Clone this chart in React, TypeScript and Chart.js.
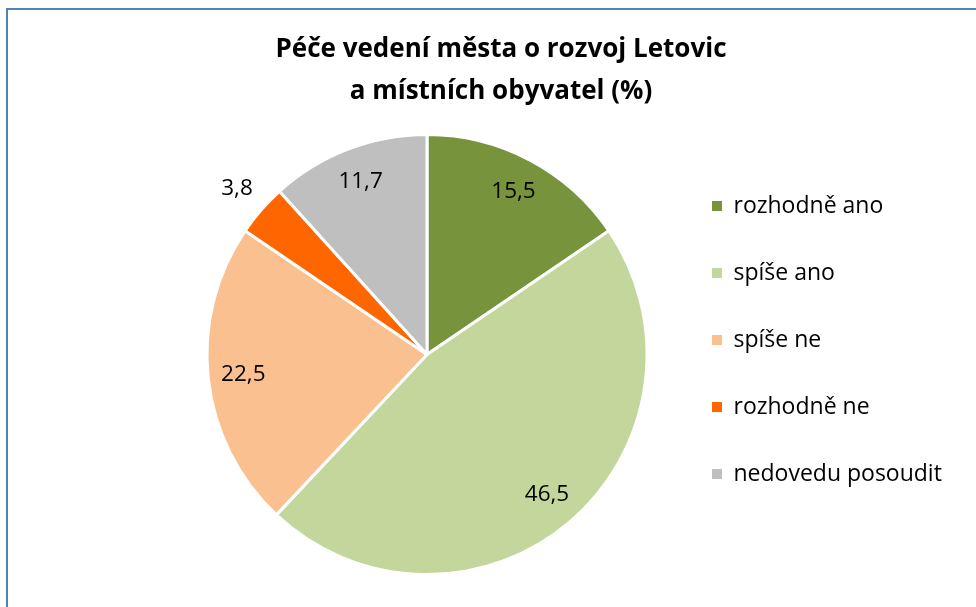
import React, { useEffect, useRef } from "react";
import { Chart, registerables } from "chart.js";

Chart.register(...registerables);

const titleLines = ["Péče vedení města o rozvoj Letovic", "a místních obyvatel (%)"];
const categories = ["rozhodně ano", "spíše ano", "spíše ne", "rozhodně ne", "nedovedu posoudit"];
const values = [15.5, 46.5, 22.5, 3.8, 11.7];
const colors = ["#77933C", "#C3D69B", "#FAC090", "#FF6600", "#BFBFBF"];

const FONT = "'Open Sans', 'Noto Sans', sans-serif";

const sliceLabels = {
  id: "sliceLabels",
  afterDatasetsDraw(chart: any) {
    const ctx = chart.ctx;
    const meta = chart.getDatasetMeta(0);
    ctx.save();
    ctx.font = `22.5px ${FONT}`;
    ctx.fillStyle = "#000";
    ctx.textAlign = "center";
    ctx.textBaseline = "middle";
    meta.data.forEach((arc: any, i: number) => {
      const v = values[i];
      const mid = (arc.startAngle + arc.endAngle) / 2;
      const f = v < 5 ? 1.145 : 0.84;
      const r = arc.outerRadius * f;
      const x = arc.x + Math.cos(mid) * r;
      const y = arc.y + Math.sin(mid) * r;
      ctx.fillText(String(v).replace(".", ","), x, y);
    });
    ctx.restore();
  },
};

// let the legend text run past its (narrow) layout box instead of being clipped
const legendUnclip = {
  id: "legendUnclip",
  afterLayout(chart: any) {
    const lg = chart.legend;
    if (lg) {
      lg.right = chart.width;
      lg.width = chart.width - lg.left;
    }
  },
};

export default function App() {
  const ref = useRef<HTMLCanvasElement>(null);
  useEffect(() => {
    if (!ref.current) return;
    const chart = new Chart(ref.current, {
      type: "pie",
      data: {
        labels: categories,
        datasets: [
          {
            data: values,
            backgroundColor: colors,
            borderColor: "#ffffff",
            borderWidth: 3,
          },
        ],
      },
      options: {
        animation: false,
        responsive: true,
        maintainAspectRatio: false,
        events: [],
        layout: { padding: { left: 170, right: 160, top: 0, bottom: 31 } },
        plugins: {
          title: {
            display: true,
            text: titleLines,
            color: "#000",
            font: { family: FONT, size: 26, weight: "bold", lineHeight: 1.615 },
            padding: { top: 29, bottom: 20 },
          },
          legend: {
            position: "right",
            maxWidth: 148,
            title: { display: true, text: "", padding: { top: 40, bottom: 40 }, font: { size: 20 } },
            labels: {
              color: "#000",
              font: { family: FONT, size: 23 },
              boxWidth: 10,
              boxHeight: 10,
              padding: 44,
              generateLabels: (c: any) =>
                (c.data.labels as string[]).map((text, i) => ({
                  text,
                  fillStyle: colors[i],
                  strokeStyle: colors[i],
                  lineWidth: 0,
                  fontColor: "#000",
                  hidden: false,
                  index: i,
                })),
            },
          },
          tooltip: { enabled: false },
        },
      },
      plugins: [sliceLabels, legendUnclip],
    });
    return () => chart.destroy();
  }, []);

  return (
    <div style={{ position: "absolute", left: 0, top: 0, width: 976, height: 607, overflow: "hidden", background: "#fff" }}>
      <div
        style={{
          position: "absolute",
          left: 6,
          top: 8,
          width: 1000,
          height: 700,
          border: "2px solid #4F81BD",
          boxSizing: "border-box",
        }}
      />
      <div style={{ position: "absolute", left: 16, top: 0, width: 960, height: 607 }}>
        <canvas ref={ref} />
      </div>
    </div>
  );
}
